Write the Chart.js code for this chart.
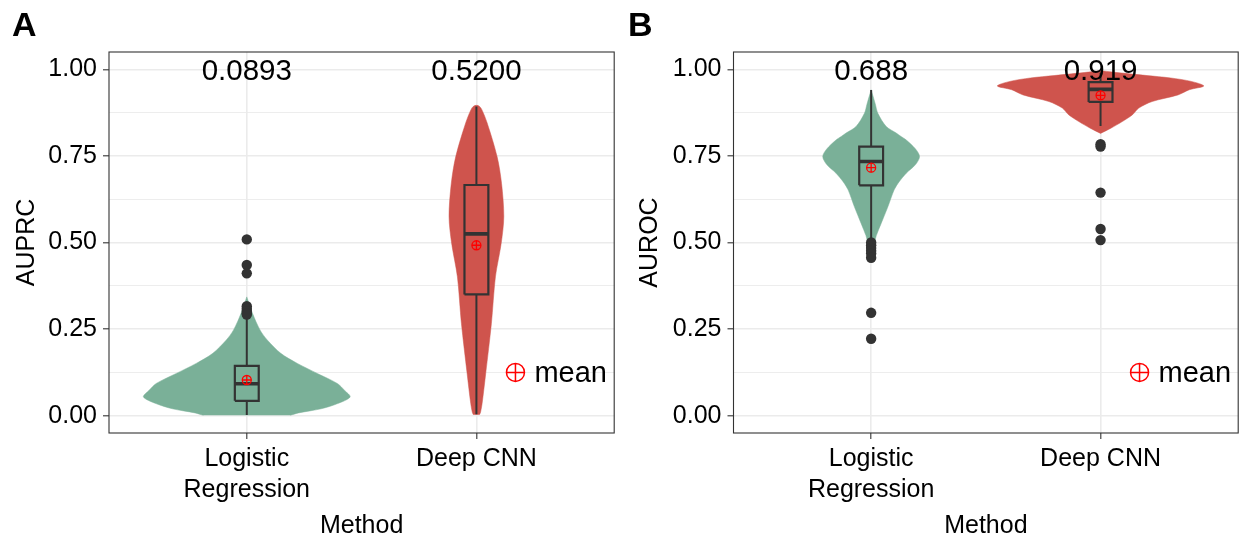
<!DOCTYPE html>
<html>
<head>
<meta charset="utf-8">
<script src="https://cdn.jsdelivr.net/npm/chart.js@4.4.1/dist/chart.umd.min.js"></script>
<style>
  html, body { margin: 0; padding: 0; background: #ffffff; }
  #wrap { position: relative; width: 1241px; height: 544px; overflow: hidden; }
  canvas { position: absolute; top: 0; }
  #panelA { left: 0; }
  #panelB { left: 620px; }
</style>
</head>
<body>
<div id="wrap">
  <canvas id="panelA" width="620" height="544"></canvas>
  <canvas id="panelB" width="624" height="544"></canvas>
</div>
<script>
// ---- categories and axis ticks ----
const methods = [['Logistic', 'Regression'], 'Deep CNN'];
const yGridValues = [0, 0.125, 0.25, 0.375, 0.5, 0.625, 0.75, 0.875, 1.0];

// ---- AUPRC summary ----
const auprcLabels = ['0.0893', '0.5200'];
const auprcQ1 = [0.043, 0.350];
const auprcMedian = [0.092, 0.525];
const auprcQ3 = [0.144, 0.666];
const auprcWhiskerLow = [0.002, 0.004];
const auprcWhiskerHigh = [0.288, 0.893];
const auprcMean = [0.103, 0.492];
const auprcOutliersLR = [0.509, 0.435, 0.411, 0.316, 0.309, 0.302, 0.296, 0.292];
const auprcOutliersCNN = [];

// AUPRC kernel density (scaled so the widest violin in the panel is 1)
const auprcLrViolinY = [0.001, 0.008, 0.020, 0.035, 0.054, 0.072, 0.093, 0.122, 0.151, 0.180, 0.218, 0.247, 0.295, 0.343];
const auprcLrViolinDensity = [0.42, 0.50, 0.72, 0.88, 1.00, 0.95, 0.876, 0.682, 0.489, 0.329, 0.200, 0.129, 0.056, 0.0];
const auprcCnnViolinY = [0.003, 0.010, 0.035, 0.122, 0.266, 0.401, 0.498, 0.575, 0.671, 0.748, 0.845, 0.885, 0.895];
const auprcCnnViolinDensity = [0.03, 0.04, 0.055, 0.09, 0.145, 0.184, 0.240, 0.265, 0.243, 0.200, 0.104, 0.05, 0.02];

// ---- AUROC summary ----
const aurocLabels = ['0.688', '0.919'];
const aurocQ1 = [0.665, 0.906];
const aurocMedian = [0.734, 0.942];
const aurocQ3 = [0.777, 0.963];
const aurocWhiskerLow = [0.500, 0.836];
const aurocWhiskerHigh = [0.940, 0.990];
const aurocMean = [0.716, 0.925];
const aurocOutliersLR = [0.500, 0.492, 0.484, 0.476, 0.468, 0.456, 0.297, 0.222];
const aurocOutliersCNN = [0.784, 0.777, 0.644, 0.539, 0.507];

// AUROC kernel density (scaled so the widest violin in the panel is 1)
const aurocLrViolinY = [0.480, 0.490, 0.507, 0.520, 0.555, 0.603, 0.652, 0.675, 0.700, 0.725, 0.748, 0.770, 0.796, 0.806, 0.816, 0.835, 0.873, 0.900, 0.941];
const aurocLrViolinDensity = [0.0, 0.015, 0.039, 0.05, 0.097, 0.162, 0.223, 0.27, 0.34, 0.43, 0.469, 0.43, 0.34, 0.29, 0.243, 0.146, 0.065, 0.04, 0.0];
const aurocCnnViolinY = [0.815, 0.830, 0.849, 0.869, 0.888, 0.907, 0.926, 0.941, 0.952, 0.965, 0.975, 0.982, 0.987, 0.992, 0.996];
const aurocCnnViolinDensity = [0.0, 0.10, 0.21, 0.31, 0.37, 0.50, 0.75, 0.86, 1.0, 0.88, 0.68, 0.45, 0.28, 0.12, 0.0];

// ---- styling ----
const FONT = '"Liberation Sans", Arial, Helvetica, sans-serif';
Chart.defaults.font.family = FONT;
const VIOLIN_COLORS = ['#7ab098', '#cf544d'];
const INK = '#333333';
const GRID = '#ebebeb';
const VIOLIN_HALF = 0.45;   // half of violin width (category units)
const BOX_HALF = 0.052;     // half of box width (category units)
const LABEL_Y = 1.0;        // value at which the summary labels sit
const KEY_X = 1.17, KEY_Y = 0.125;  // position of the "mean" key

const isMajor = v => Math.abs(v * 4 - Math.round(v * 4)) < 1e-9;

function violinDataset(i, ys, dens) {
  const pts = [];
  for (let k = 0; k < ys.length; k++) pts.push({ x: i - dens[k] * VIOLIN_HALF, y: ys[k] });
  for (let k = ys.length - 1; k >= 0; k--) pts.push({ x: i + dens[k] * VIOLIN_HALF, y: ys[k] });
  return {
    type: 'scatter', data: pts, showLine: true, fill: 'shape',
    backgroundColor: VIOLIN_COLORS[i], borderColor: VIOLIN_COLORS[i], borderWidth: 0.5,
    pointRadius: 0, tension: 0.3, order: 10
  };
}

function buildDatasets(p) {
  const ds = [];
  p.violins.forEach((v, i) => ds.push(violinDataset(i, v.y, v.d)));

  const box = [], whisk = [], med = [], outl = [], means = [];
  for (let i = 0; i < p.q1.length; i++) {
    box.push({ x: i - BOX_HALF, y: p.q1[i] }, { x: i + BOX_HALF, y: p.q1[i] },
             { x: i + BOX_HALF, y: p.q3[i] }, { x: i - BOX_HALF, y: p.q3[i] },
             { x: i - BOX_HALF, y: p.q1[i] }, { x: i, y: null });
    whisk.push({ x: i, y: p.q3[i] }, { x: i, y: p.hi[i] }, { x: i, y: null },
               { x: i, y: p.q1[i] }, { x: i, y: p.lo[i] }, { x: i, y: null });
    med.push({ x: i - BOX_HALF, y: p.med[i] }, { x: i + BOX_HALF, y: p.med[i] }, { x: i, y: null });
    p.outliers[i].forEach(v => outl.push({ x: i, y: v }));
    means.push({ x: i, y: p.mean[i] });
  }
  const lineBase = { type: 'scatter', showLine: true, spanGaps: false, pointRadius: 0, tension: 0, fill: false };
  ds.push(Object.assign({}, lineBase, { data: whisk, borderColor: INK, borderWidth: 2, order: 4 }));
  ds.push(Object.assign({}, lineBase, { data: box, borderColor: INK, borderWidth: 2.2, borderJoinStyle: 'miter', order: 3 }));
  ds.push(Object.assign({}, lineBase, { data: med, borderColor: INK, borderWidth: 3.6, borderCapStyle: 'butt', order: 2 }));
  ds.push({ type: 'scatter', data: outl, pointRadius: 5.2, pointBackgroundColor: INK, pointBorderWidth: 0, order: 1 });
  ds.push({ type: 'scatter', data: means, pointStyle: 'circle', pointRadius: 4.5,
            pointBackgroundColor: 'rgba(0,0,0,0)', pointBorderColor: '#ff0000', pointBorderWidth: 1.3, order: 0 });
  ds.push({ type: 'scatter', data: means, pointStyle: 'cross', pointRadius: 4.5,
            pointBorderColor: '#ff0000', pointBorderWidth: 1.3, order: 0 });
  return ds;
}

// summary labels, mean key, panel frame and panel letter
const panelDecor = {
  id: 'panelDecor',
  afterDatasetsDraw(chart, args, opts) {
    const { ctx, chartArea, scales: { x, y } } = chart;
    ctx.save();
    ctx.fillStyle = '#000';
    ctx.textBaseline = 'alphabetic';
    ctx.textAlign = 'center';
    ctx.font = '29.5px ' + FONT;
    opts.labels.forEach((t, i) => ctx.fillText(t, x.getPixelForValue(i), y.getPixelForValue(LABEL_Y) + 10.5));

    const kx = x.getPixelForValue(KEY_X), ky = y.getPixelForValue(KEY_Y), r = 9;
    ctx.strokeStyle = '#ff0000';
    ctx.lineWidth = 1.5;
    ctx.beginPath();
    ctx.arc(kx, ky, r, 0, Math.PI * 2);
    ctx.moveTo(kx - r, ky); ctx.lineTo(kx + r, ky);
    ctx.moveTo(kx, ky - r); ctx.lineTo(kx, ky + r);
    ctx.stroke();
    ctx.textAlign = 'left';
    ctx.font = '29px ' + FONT;
    ctx.fillText('mean', kx + 19, ky + 10);

    ctx.strokeStyle = INK;
    ctx.lineWidth = 1.1;
    ctx.strokeRect(chartArea.left, chartArea.top, chartArea.width, chartArea.height);

    ctx.font = 'bold 34px ' + FONT;
    ctx.fillText(opts.letter, opts.letterX, 36);
    ctx.restore();
  }
};

function makePanel(canvasId, p) {
  return new Chart(document.getElementById(canvasId), {
    type: 'scatter',
    data: { datasets: buildDatasets(p) },
    options: {
      responsive: false,
      animation: false,
      devicePixelRatio: 1,
      layout: { padding: p.padding },
      plugins: {
        legend: { display: false },
        tooltip: { enabled: false },
        panelDecor: { labels: p.labels, letter: p.letter, letterX: p.letterX }
      },
      scales: {
        x: {
          type: 'linear', min: -0.6, max: 1.6,
          afterBuildTicks: ax => { ax.ticks = methods.map((m, i) => ({ value: i })); },
          afterFit: s => { s.height = 111; },
          ticks: { callback: v => methods[v], color: '#000', padding: 5, maxRotation: 0, autoSkip: false,
                   font: { size: 25, lineHeight: 1.24 } },
          grid: { color: GRID, lineWidth: 1.6, tickLength: 6, tickColor: INK, tickWidth: 1.1 },
          border: { display: false },
          title: { display: true, text: 'Method', color: '#000', font: { size: 25 }, padding: { top: 0, bottom: 3 } }
        },
        y: {
          type: 'linear', min: -0.05, max: 1.05,
          afterBuildTicks: ax => { ax.ticks = yGridValues.map(v => ({ value: v })); },
          afterFit: s => { s.width = p.yWidth; },
          ticks: { callback: v => isMajor(v) ? v.toFixed(2) : '', color: '#000', padding: 6, autoSkip: false,
                   font: { size: 25 } },
          grid: {
            color: GRID,
            lineWidth: c => (c.tick && isMajor(c.tick.value)) ? 1.6 : 0.9,
            tickLength: 6,
            tickColor: c => (c.tick && isMajor(c.tick.value)) ? INK : 'rgba(0,0,0,0)',
            tickWidth: 1.1
          },
          border: { display: false },
          title: { display: true, text: p.yTitle, color: '#000', font: { size: 25 }, padding: { top: 12, bottom: 0 } }
        }
      }
    },
    plugins: [panelDecor]
  });
}

makePanel('panelA', {
  yTitle: 'AUPRC', labels: auprcLabels, letter: 'A', letterX: 12,
  padding: { top: 52, right: 2, left: 0, bottom: 0 }, yWidth: 109,
  q1: auprcQ1, med: auprcMedian, q3: auprcQ3, lo: auprcWhiskerLow, hi: auprcWhiskerHigh,
  mean: auprcMean, outliers: [auprcOutliersLR, auprcOutliersCNN],
  violins: [{ y: auprcLrViolinY, d: auprcLrViolinDensity }, { y: auprcCnnViolinY, d: auprcCnnViolinDensity }]
});

makePanel('panelB', {
  yTitle: 'AUROC', labels: aurocLabels, letter: 'B', letterX: 8,
  padding: { top: 52, right: 2, left: 3, bottom: 0 }, yWidth: 110.5,
  q1: aurocQ1, med: aurocMedian, q3: aurocQ3, lo: aurocWhiskerLow, hi: aurocWhiskerHigh,
  mean: aurocMean, outliers: [aurocOutliersLR, aurocOutliersCNN],
  violins: [{ y: aurocLrViolinY, d: aurocLrViolinDensity }, { y: aurocCnnViolinY, d: aurocCnnViolinDensity }]
});
</script>
</body>
</html>
